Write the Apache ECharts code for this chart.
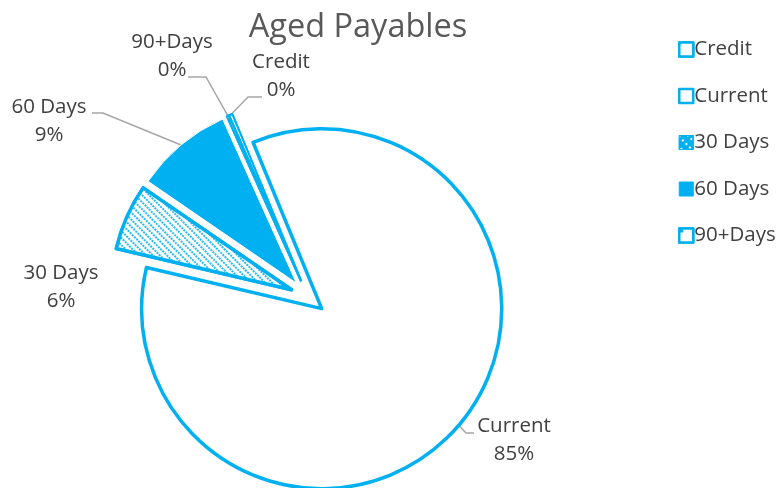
<!DOCTYPE html>
<html>
<head>
<meta charset="utf-8">
<script src="https://cdn.jsdelivr.net/npm/echarts@6/dist/echarts.min.js"></script>
<style>
  html, body { margin: 0; padding: 0; background: #ffffff; }
  #chart { width: 776px; height: 488px; }
</style>
</head>
<body>
<div id="chart"></div>
<script>
// Aged payables, share of total by age bucket (percent)
const categories = ['Credit', 'Current', '30 Days', '60 Days', '90+Days'];
const shares = [0.3, 84.9, 5.9, 8.7, 0.2];
const chartTitle = 'Aged Payables';

const BLUE = '#00B0F0';
const FONT = '"Open Sans", "Noto Sans", sans-serif';
const TEXT = '#404040';
const PIE_CENTER = [308, 297];
const PIE_RADIUS = 180;
const EXPLODE = 18;

// Fill and outline per bucket
const bucketStyle = {
  'Credit': {
    color: '#ffffff', borderColor: BLUE, borderWidth: 2,
    decal: { symbol: 'rect', symbolSize: 0.6, dashArrayX: [[3, 5]], dashArrayY: [3, 5], color: BLUE, backgroundColor: '#ffffff' }
  },
  'Current': { color: '#ffffff', borderColor: BLUE, borderWidth: 3.5 },
  '30 Days': {
    color: '#ffffff', borderColor: BLUE, borderWidth: 3.5,
    decal: { symbol: 'rect', symbolSize: 1, dashArrayX: [[2, 1]], dashArrayY: [1.5, 3], rotation: Math.PI / 4, color: 'rgba(0,176,240,0.85)', backgroundColor: '#ffffff' }
  },
  '60 Days': { color: BLUE, borderColor: '#ffffff', borderWidth: 1 },
  '90+Days': {
    color: '#ffffff', borderColor: BLUE, borderWidth: 2,
    decal: { symbol: 'rect', symbolSize: 1, dashArrayX: [[5, 4]], dashArrayY: [5, 4], color: BLUE, backgroundColor: '#ffffff' }
  }
};

// Legend swatches
const legendSwatch = {
  'Credit': {
    color: '#ffffff', borderColor: BLUE, borderWidth: 2.5,
    decal: { symbol: 'rect', symbolSize: 1, dashArrayX: [[2, 12]], dashArrayY: [2, 12], color: BLUE, backgroundColor: '#ffffff' }
  },
  'Current': { color: '#ffffff', borderColor: BLUE, borderWidth: 2.5, decal: 'none' },
  '30 Days': {
    color: BLUE, borderColor: BLUE, borderWidth: 1,
    decal: { symbol: 'rect', symbolSize: 1, dashArrayX: [[2, 3]], dashArrayY: [2, 5], rotation: Math.PI / 4, color: '#ffffff', backgroundColor: BLUE }
  },
  '60 Days': { color: BLUE, borderColor: BLUE, borderWidth: 1, decal: 'none' },
  '90+Days': {
    color: '#ffffff', borderColor: BLUE, borderWidth: 2.5,
    decal: { symbol: 'rect', symbolSize: 1, dashArrayX: [[4, 10]], dashArrayY: [4, 10], color: BLUE, backgroundColor: '#ffffff' }
  }
};

// Label block centres and leader routing (bend, end) next to each label
const labelSpot = {
  'Credit':  { at: [281, 76],  bend: [248, 97],  end: [262, 97] },
  'Current': { at: [514, 440], bend: [466, 433], end: [474, 433] },
  '30 Days': { at: [61, 287] },
  '60 Days': { at: [49, 121],  bend: [103, 113], end: [92, 113] },
  '90+Days': { at: [172, 56],  bend: [206, 77],  end: [188, 77] }
};

// Exploded slices
const sliceData = categories.map((name, i) => ({
  name: name,
  value: shares[i],
  selected: true,
  itemStyle: bucketStyle[name],
  select: { itemStyle: bucketStyle[name] }
}));

// Same values again, invisible, carrying the labels and leader lines
const labelData = categories.map((name, i) => ({
  name: name,
  value: shares[i],
  labelLine: { show: !!labelSpot[name].bend }
}));

const chart = echarts.init(document.getElementById('chart'), null, { renderer: 'canvas' });

chart.setOption({
  animation: false,
  backgroundColor: '#ffffff',
  title: {
    text: chartTitle,
    left: 353,
    top: 6,
    textAlign: 'center',
    textStyle: { fontFamily: FONT, fontSize: 32.5, fontWeight: 'normal', color: '#595959' }
  },
  legend: {
    orient: 'vertical',
    left: 673,
    top: 34,
    itemWidth: 14,
    itemHeight: 14,
    itemGap: 25.5,
    icon: 'rect',
    data: categories.map(n => ({ name: n, itemStyle: legendSwatch[n] })),
    selectedMode: false,
    textStyle: { fontFamily: FONT, fontSize: 20.5, color: TEXT, lineHeight: 20, padding: [0, 0, 0, -4] }
  },
  series: [
    {
      name: 'slices',
      type: 'pie',
      radius: PIE_RADIUS,
      center: PIE_CENTER,
      startAngle: 113.5,
      clockwise: true,
      selectedMode: 'multiple',
      selectedOffset: EXPLODE,
      emphasis: { disabled: true },
      label: { show: false },
      labelLine: { show: false },
      data: sliceData
    },
    {
      name: 'labels',
      type: 'pie',
      silent: true,
      radius: PIE_RADIUS + EXPLODE,
      center: PIE_CENTER,
      startAngle: 113.5,
      clockwise: true,
      avoidLabelOverlap: false,
      emphasis: { disabled: true },
      itemStyle: { color: 'rgba(0,0,0,0)', borderWidth: 0 },
      label: {
        show: true,
        position: 'outside',
        formatter: (p) => '{n|' + p.name + '}\n{n|' + Math.round(p.percent) + '%}',
        rich: {
          n: { width: 90, align: 'center', fontFamily: FONT, fontSize: 20.5, lineHeight: 28, color: TEXT }
        }
      },
      labelLine: {
        show: true,
        length: 10,
        length2: 10,
        lineStyle: { color: '#A6A6A6', width: 1.5 }
      },
      labelLayout: (params) => {
        const spot = labelSpot[categories[params.dataIndex]];
        const out = { x: spot.at[0], y: spot.at[1], align: 'center', verticalAlign: 'middle' };
        if (spot.bend && params.labelLinePoints) {
          out.labelLinePoints = [params.labelLinePoints[0], spot.bend, spot.end];
        }
        return out;
      },
      data: labelData
    }
  ]
});
</script>
</body>
</html>
